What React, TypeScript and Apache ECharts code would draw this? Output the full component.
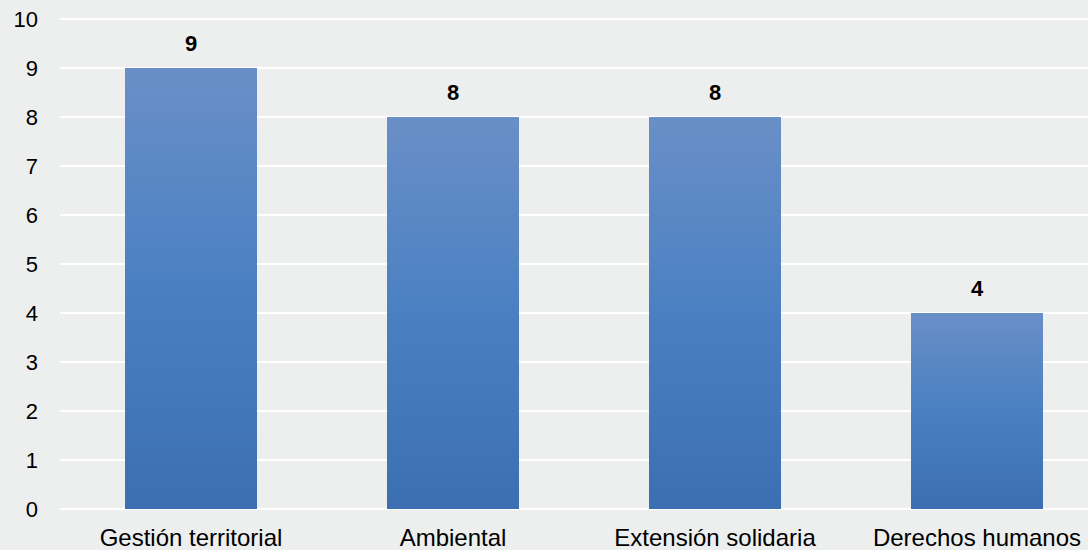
import React, { useEffect, useRef } from "react";
import * as echarts from "echarts";

const categories = ["Gestión territorial", "Ambiental", "Extensión solidaria", "Derechos humanos"];
const values = [9, 8, 8, 4];
const yTicks = { min: 0, max: 10, interval: 1 };

export default function App() {
  const ref = useRef<HTMLDivElement>(null);
  useEffect(() => {
    const chart = echarts.init(ref.current!, undefined, { renderer: "svg" });
    chart.setOption({
      animation: false,
      backgroundColor: "#EDEEEE",
      textStyle: { fontFamily: "Liberation Sans, Arial, sans-serif" },
      grid: { left: 60, right: 0, top: 19, bottom: 41, containLabel: false },
      xAxis: {
        type: "category",
        data: categories,
        axisLine: { show: false },
        axisTick: { show: false },
        axisLabel: { color: "#000", fontSize: 24, margin: 16, interval: 0 },
      },
      yAxis: {
        type: "value",
        min: yTicks.min,
        max: yTicks.max,
        interval: yTicks.interval,
        axisLine: { show: false },
        axisTick: { show: false },
        axisLabel: { color: "#000", fontSize: 22, margin: 22 },
        splitLine: { lineStyle: { color: "#FFFFFF", width: 2 } },
      },
      series: [
        {
          type: "bar",
          data: values,
          barWidth: 132,
          itemStyle: {
            color: new echarts.graphic.LinearGradient(0, 0, 0, 1, [
              { offset: 0, color: "#6A8FC7" },
              { offset: 0.5, color: "#4A80C2" },
              { offset: 1, color: "#3B6FB1" },
            ]),
          },
          label: {
            show: true,
            position: "top",
            distance: 14,
            color: "#000",
            fontSize: 22,
            fontWeight: "bold",
          },
        },
      ],
    });
    return () => chart.dispose();
  }, []);
  return (
    <div style={{ position: "fixed", left: 0, top: 0, width: 1088, height: 550, overflow: "hidden" }}>
      <div ref={ref} style={{ position: "absolute", left: 0, top: 0, width: 1108, height: 550 }} />
    </div>
  );
}
